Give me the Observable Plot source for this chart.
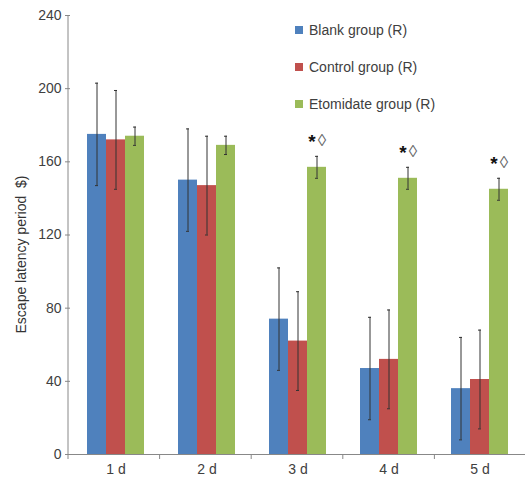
<!DOCTYPE html>
<html>
<head>
<meta charset="utf-8">
<script src="https://cdn.jsdelivr.net/npm/d3@7"></script>
<script src="https://cdn.jsdelivr.net/npm/@observablehq/plot@0.6"></script>
<style>
  html, body { margin: 0; padding: 0; background: #fff; }
  #wrap { position: relative; width: 526px; height: 478px; font-family: "Liberation Sans", Arial, sans-serif; }
  .leg { position: absolute; left: 295px; font-size: 14px; color: #404040; display: flex; align-items: center; }
  .leg span.sw { width: 8px; height: 8px; display: inline-block; margin-right: 6px; }
</style>
</head>
<body>
<div id="wrap"></div>
<script>
const days = ["1 d", "2 d", "3 d", "4 d", "5 d"];
const groups = ["Blank group (R)", "Control group (R)", "Etomidate group (R)"];
const colors = ["#4F81BD", "#C0504D", "#9BBB59"];
const blankMean = [175, 150, 74, 47, 36];
const blankErr = [28, 28, 28, 28, 28];
const controlMean = [172, 147, 62, 52, 41];
const controlErr = [27, 27, 27, 27, 27];
const etomMean = [174, 169, 157, 151, 145];
const etomErr = [5, 5, 6, 6, 6];
const etomMarks = ["", "", "*\u25CA", "*\u25CA", "*\u25CA"];
const yTicks = [0, 40, 80, 120, 160, 200, 240];
const yLabel = "Escape latency period  $)";

const series = [
  [blankMean, blankErr, days.map(() => "")],
  [controlMean, controlErr, days.map(() => "")],
  [etomMean, etomErr, etomMarks]
];
const rows = [];
days.forEach((day, i) => {
  groups.forEach((g, j) => {
    const [m, e, mk] = series[j];
    rows.push({day, group: g, value: m[i], lo: m[i] - e[i], hi: m[i] + e[i], mark: mk[i]});
  });
});
const marked = rows.filter(d => d.mark);

const chart = Plot.plot({
  width: 526,
  height: 478,
  marginLeft: 68,
  marginRight: 0,
  marginTop: 15,
  marginBottom: 24,
  style: {fontFamily: "Liberation Sans, Arial, sans-serif", fontSize: "14px", color: "#404040", background: "transparent"},
  fx: {domain: days, padding: 0, label: null, axis: null},
  x: {domain: groups, paddingInner: 0, paddingOuter: 0.8, axis: null},
  y: {domain: [0, 240]},
  color: {domain: groups, range: colors},
  marks: [
    Plot.barY(rows, {fx: "day", x: "group", y: "value", fill: "group"}),
    Plot.ruleX(rows, {fx: "day", x: "group", y1: "lo", y2: "hi", stroke: "#333", strokeWidth: 1}),
    Plot.tickY(rows, {fx: "day", x: "group", y: "lo", stroke: "#333", insetLeft: 8, insetRight: 8}),
    Plot.tickY(rows, {fx: "day", x: "group", y: "hi", stroke: "#333", insetLeft: 8, insetRight: 8}),
    Plot.text(marked, {fx: "day", x: "group", y: "hi", text: d => d.mark.slice(0, 1), dx: -5, dy: -14, fontSize: 19, fontWeight: "bold", fill: "#111"}),
    Plot.text(marked, {fx: "day", x: "group", y: "hi", text: d => d.mark.slice(1), dx: 5, dy: -16, fontSize: 17, fill: "#666"}),
    Plot.ruleY([0], {stroke: "#888"}),
    Plot.axisY({ticks: yTicks, tickSize: 5, tickPadding: 4, stroke: "#888", label: null, fontSize: 14}),
    Plot.axisFx({anchor: "bottom", tickSize: 0, tickPadding: 10, label: null, fontSize: 14})
  ]
});

// axis line and category boundary ticks from the scales
const svg = d3.select(chart);
const ys = chart.scale("y");
const fxs = chart.scale("fx");
const y0 = ys.apply(0), yTop = ys.apply(240);
const [r0, r1] = fxs.range;
const step = (r1 - r0) / days.length;
svg.append("line").attr("x1", r0).attr("x2", r0).attr("y1", yTop).attr("y2", y0)
  .attr("stroke", "#888");
days.forEach((d, i) => {
  const x = r0 + i * step;
  svg.append("line").attr("x1", x).attr("x2", x).attr("y1", y0).attr("y2", y0 + 5).attr("stroke", "#888");
});
svg.append("text")
  .attr("transform", `translate(26,${(y0 + yTop) / 2 + 20}) rotate(-90)`)
  .attr("text-anchor", "middle")
  .attr("font-size", 14)
  .attr("fill", "#333")
  .text(yLabel);

const wrap = document.getElementById("wrap");
wrap.appendChild(chart);
const legTops = [22, 59, 96];
groups.forEach((g, i) => {
  const div = document.createElement("div");
  div.className = "leg";
  div.style.top = legTops[i] + "px";
  div.innerHTML = `<span class="sw" style="background:${colors[i]}"></span>`;
  div.appendChild(document.createTextNode(g));
  wrap.appendChild(div);
});
</script>
</body>
</html>
